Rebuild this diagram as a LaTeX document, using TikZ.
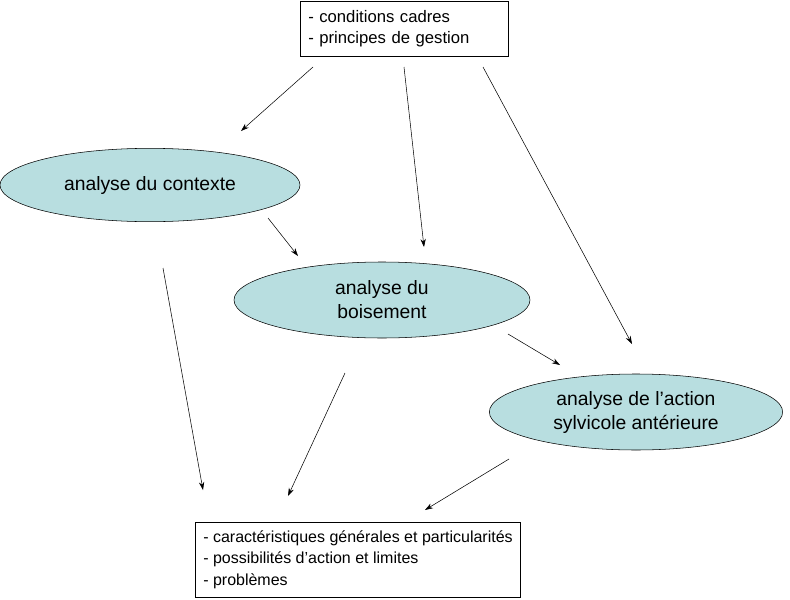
\documentclass[tikz,border=0pt]{standalone}
\usepackage{fontspec}
\setmainfont{Liberation Sans}
\usetikzlibrary{arrows.meta,shapes.geometric}
\definecolor{ellfill}{RGB}{184,222,224}
\tikzset{
  boite/.style={draw,fill=white,align=left,inner sep=3pt,inner xsep=6pt,font=\fontsize{12.5}{16}\selectfont},
  analyse/.style={ellipse,draw,fill=ellfill,align=center,inner sep=0pt,font=\fontsize{14.5}{18}\selectfont},
  fleche/.style={-{Stealth[length=6pt,width=4pt]},thin}
}
\begin{document}
\begin{tikzpicture}[x=0.75pt,y=-0.75pt]
\useasboundingbox (0,0) rectangle (790,600);
% boites
\node[boite,text width=144pt,minimum height=41pt,anchor=north west] (cadres) at (300,1)
  {- conditions cadres\\- principes de gestion};
\node[boite,minimum height=56pt,anchor=north west,font=\fontsize{12}{16}\selectfont] (resultats) at (195,522)
  {- caractéristiques générales et particularités\\- possibilités d’action et limites\\- problèmes};
% ellipses
\node[analyse,minimum width=225pt,minimum height=55pt] (contexte) at (150,185) {analyse du contexte};
\node[analyse,minimum width=222pt,minimum height=57pt] (boisement) at (382,300) {analyse du\\boisement};
\node[analyse,minimum width=220pt,minimum height=57pt] (action) at (636,412) {analyse de l’action\\sylvicole antérieure};
% extremites des fleches
\coordinate (c1) at (313,67);  \coordinate (c1e) at (241,131);
\coordinate (c2) at (404,67);  \coordinate (c2e) at (424,247);
\coordinate (c3) at (483,67);  \coordinate (c3e) at (632,344);
\coordinate (ct) at (268,218); \coordinate (cte) at (298,256);
\coordinate (bo) at (508,334); \coordinate (boe) at (560,365);
\coordinate (r1) at (163,268); \coordinate (r1e) at (203,490);
\coordinate (r2) at (345,373); \coordinate (r2e) at (288,496);
\coordinate (r3) at (509,459); \coordinate (r3e) at (425,510);
\foreach \a/\b in {c1/c1e,c2/c2e,c3/c3e,ct/cte,bo/boe,r1/r1e,r2/r2e,r3/r3e}
  \draw[fleche] (\a) -- (\b);
\end{tikzpicture}
\end{document}
